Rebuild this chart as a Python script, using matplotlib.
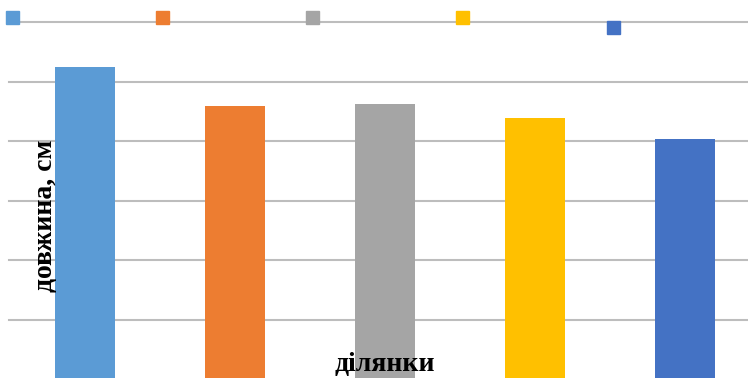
import matplotlib
matplotlib.use("Agg")
import matplotlib.pyplot as plt
from matplotlib.patches import Rectangle

# Bar data (gridline step = 1 unit)
plots = ["1", "2", "3", "4", "5"]
lengths = [5.24, 4.59, 4.62, 4.39, 4.03]
colors = ["#5B9BD5", "#ED7D31", "#A5A5A5", "#FFC000", "#4472C4"]

W, H = 748, 378
fig = plt.figure(figsize=(W / 100, H / 100), dpi=100)

# axes placed in pixel coords: left 9, right 748, top 22 (value 6), bottom 379 (value 0)
ax = fig.add_axes([9 / W, (H - 379) / H, (748 - 9) / W, (379 - 22) / H])
x = list(range(len(plots)))
ax.bar(x, lengths, width=0.4, color=colors, zorder=3)
ax.set_xlim(-0.505, 4.417)
ax.set_ylim(0, 6)
ax.set_yticks([1, 2, 3, 4, 5, 6])
ax.grid(axis="y", color="#BDBDBD", linewidth=1.5, zorder=0)
for gl in ax.yaxis.get_gridlines():
    gl.set_clip_on(False)
ax.tick_params(left=False, bottom=False, labelleft=False, labelbottom=False)
for s in ax.spines.values():
    s.set_visible(False)

# legend markers (text not visible in the original)
sq = [(6, 11), (156, 11), (306, 11), (456, 11), (607, 21)]
for (px, py), c in zip(sq, colors):
    fig.add_artist(Rectangle((px / W, (H - py - 13) / H), 13 / W, 13 / H,
                             transform=fig.transFigure, color=c, zorder=5))

font = dict(family="Liberation Serif", fontweight="bold", fontsize=20)
fig.text(46 / W, 1 - 216 / H, "довжина, см", rotation=90, ha="center", va="center", **font)
fig.text(385 / W, 1 - 364 / H, "ділянки", ha="center", va="center", zorder=6, **font)

fig.savefig("out.png", dpi=100)
